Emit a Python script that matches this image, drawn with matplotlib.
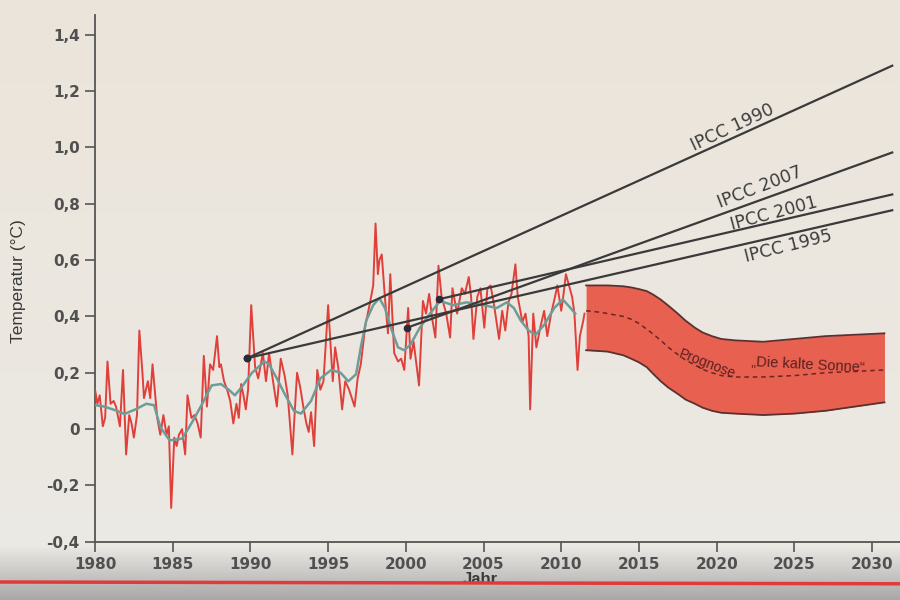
import numpy as np
import matplotlib
matplotlib.use("Agg")
import matplotlib.pyplot as plt

plt.rcParams['font.family'] = ['Liberation Sans', 'DejaVu Sans']

# ---- observed monthly-ish anomalies (red) ----
obs_years = [1980.0, 1980.15, 1980.3, 1980.5, 1980.65, 1980.8, 1981.0, 1981.2, 1981.35, 1981.6,
             1981.8, 1982.0, 1982.2, 1982.35, 1982.5, 1982.7, 1982.85, 1983.05, 1983.15, 1983.4,
             1983.55, 1983.7, 1984.0, 1984.2, 1984.4, 1984.6, 1984.75, 1984.9, 1985.1, 1985.25,
             1985.4, 1985.6, 1985.8, 1985.95, 1986.2, 1986.4, 1986.6, 1986.8, 1987.0, 1987.2,
             1987.4, 1987.6, 1987.85, 1988.0, 1988.1, 1988.3, 1988.5, 1988.7, 1988.9, 1989.1,
             1989.25, 1989.4, 1989.55, 1989.7, 1989.85, 1990.05, 1990.3, 1990.5, 1990.8, 1991.0,
             1991.2, 1991.4, 1991.7, 1991.95, 1992.2, 1992.4, 1992.7, 1992.85, 1993.0, 1993.2,
             1993.4, 1993.6, 1993.75, 1993.9, 1994.1, 1994.3, 1994.5, 1994.7, 1995.0, 1995.3,
             1995.45, 1995.65, 1995.9, 1996.1, 1996.35, 1996.7, 1996.9, 1997.1, 1997.4, 1997.7,
             1997.9, 1998.05, 1998.2, 1998.3, 1998.45, 1998.65, 1998.85, 1999.0, 1999.25, 1999.5,
             1999.7, 1999.9, 2000.15, 2000.3, 2000.5, 2000.85, 2001.1, 2001.3, 2001.5, 2001.7,
             2001.9, 2002.1, 2002.3, 2002.6, 2002.85, 2003.0, 2003.3, 2003.6, 2003.8, 2004.05,
             2004.2, 2004.35, 2004.6, 2004.8, 2005.05, 2005.25, 2005.45, 2005.65, 2006.0, 2006.2,
             2006.4, 2006.6, 2006.8, 2007.05, 2007.2, 2007.5, 2007.7, 2007.9, 2008.0, 2008.2,
             2008.4, 2008.65, 2008.9, 2009.1, 2009.35, 2009.6, 2009.75, 2010.0, 2010.15, 2010.3,
             2010.45, 2010.7, 2010.85, 2011.05, 2011.2, 2011.4, 2011.5]
obs_temp = [0.14, 0.09, 0.12, 0.01, 0.04, 0.24, 0.09, 0.10, 0.08, 0.01,
            0.21, -0.09, 0.05, 0.02, -0.03, 0.05, 0.35, 0.20, 0.11, 0.17,
            0.11, 0.23, 0.04, -0.02, 0.05, -0.02, 0.01, -0.28, -0.03, -0.06,
            -0.02, 0.00, -0.09, 0.12, 0.04, 0.05, 0.02, -0.03, 0.26, 0.08,
            0.23, 0.21, 0.33, 0.22, 0.23, 0.17, 0.14, 0.10, 0.02, 0.09,
            0.04, 0.16, 0.12, 0.07, 0.14, 0.44, 0.22, 0.18, 0.27, 0.17,
            0.27, 0.19, 0.08, 0.25, 0.19, 0.12, -0.09, 0.06, 0.20, 0.15,
            0.08, 0.02, -0.01, 0.06, -0.06, 0.21, 0.14, 0.17, 0.44, 0.17,
            0.29, 0.22, 0.07, 0.17, 0.14, 0.08, 0.18, 0.23, 0.37, 0.45,
            0.51, 0.73, 0.55, 0.60, 0.62, 0.47, 0.34, 0.55, 0.27, 0.24,
            0.25, 0.21, 0.43, 0.25, 0.31, 0.155, 0.455, 0.41, 0.48, 0.39,
            0.325, 0.58, 0.47, 0.41, 0.325, 0.50, 0.41, 0.50, 0.48, 0.54,
            0.47, 0.32, 0.47, 0.50, 0.36, 0.50, 0.51, 0.45, 0.32, 0.42,
            0.35, 0.45, 0.48, 0.585, 0.47, 0.38, 0.41, 0.33, 0.07, 0.41,
            0.29, 0.36, 0.42, 0.33, 0.41, 0.47, 0.51, 0.42, 0.48, 0.55,
            0.52, 0.47, 0.41, 0.21, 0.33, 0.38, 0.41]

# ---- smoothed curve (teal) ----
smooth_years = [1980.0, 1980.6, 1981.3, 1981.9, 1982.6, 1983.3, 1983.8, 1984.2, 1984.8, 1985.6,
                1986.2, 1986.9, 1987.5, 1988.1, 1988.6, 1989.0, 1989.45, 1990.1, 1990.9, 1991.2,
                1991.7, 1992.2, 1992.8, 1993.25, 1993.9, 1994.5, 1995.2, 1995.8, 1996.3, 1996.8,
                1997.1, 1997.45, 1997.9, 1998.3, 1998.65, 1999.1, 1999.5, 1999.9, 2000.3, 2000.9,
                2001.55, 2002.2, 2003.05, 2003.9, 2005.0, 2005.85, 2006.5, 2006.95, 2007.4, 2007.9,
                2008.35, 2008.9, 2009.55, 2010.1, 2010.6, 2010.9]
smooth_temp = [0.085, 0.08, 0.067, 0.054, 0.07, 0.09, 0.085, 0.007, -0.04, -0.034,
               0.02, 0.09, 0.155, 0.16, 0.14, 0.12, 0.15, 0.20, 0.24, 0.23,
               0.18, 0.125, 0.065, 0.055, 0.10, 0.18, 0.21, 0.20, 0.17, 0.195,
               0.29, 0.385, 0.44, 0.465, 0.43, 0.35, 0.29, 0.28, 0.30, 0.36,
               0.41, 0.455, 0.44, 0.45, 0.44, 0.43, 0.45, 0.43, 0.385, 0.35,
               0.335, 0.37, 0.43, 0.46, 0.43, 0.41]

# ---- IPCC projections ----
ipcc_labels = ["IPCC 1990", "IPCC 2007", "IPCC 2001", "IPCC 1995"]
ipcc_start_year = [1989.8, 2000.08, 2002.13, 1989.8]
ipcc_start_val = [0.252, 0.360, 0.461, 0.252]
ipcc_end_year = [2031.3, 2031.3, 2031.3, 2031.3]
ipcc_end_val = [1.29, 0.982, 0.833, 0.777]
ipcc_label_year = [2021.0, 2022.8, 2023.7, 2024.6]
ipcc_label_val = [1.07, 0.86, 0.765, 0.648]
ipcc_label_rot = [25, 21, 15, 14]

# ---- forecast band "Die kalte Sonne" ----
band_years = [2011.6, 2012.5, 2013.0, 2014.0, 2014.5, 2015.0, 2015.5, 2015.9, 2016.4, 2016.9,
              2017.5, 2018.0, 2018.6, 2019.1, 2019.7, 2020.3, 2021.2, 2023.0, 2025.0, 2027.0, 2030.8]
band_upper = [0.51, 0.51, 0.51, 0.507, 0.503, 0.497, 0.49, 0.478, 0.46, 0.438,
              0.41, 0.385, 0.36, 0.343, 0.33, 0.32, 0.315, 0.31, 0.32, 0.33, 0.34]
band_lower = [0.28, 0.277, 0.275, 0.262, 0.25, 0.237, 0.22, 0.197, 0.17, 0.147,
              0.125, 0.105, 0.09, 0.076, 0.065, 0.058, 0.055, 0.05, 0.055, 0.065, 0.095]
band_center = [0.42, 0.415, 0.41, 0.40, 0.39, 0.375, 0.355, 0.338, 0.315, 0.29,
               0.265, 0.245, 0.228, 0.212, 0.2, 0.19, 0.185, 0.185, 0.19, 0.2, 0.21]

x_ticks = [1980, 1985, 1990, 1995, 2000, 2005, 2010, 2015, 2020, 2025, 2030]
y_ticks = [-0.4, -0.2, 0.0, 0.2, 0.4, 0.6, 0.8, 1.0, 1.2, 1.4]
y_ticklabels = ["-0,4", "-0,2", "0", "0,2", "0,4", "0,6", "0,8", "1,0", "1,2", "1,4"]

fig = plt.figure(figsize=(9, 6), dpi=100)

# background (photo of screen): beige to grey gradient
bg = fig.add_axes([0, 0, 1, 1], zorder=-10)
grad = np.linspace(0, 1, 600)
top_c = np.array([0.925, 0.895, 0.855])
mid_c = np.array([0.925, 0.915, 0.895])
low_c = np.array([0.66, 0.66, 0.66])
img = np.zeros((600, 1, 3))
for i, t in enumerate(grad):
    if t < 0.91:
        c = top_c + (mid_c - top_c) * (t / 0.91)
    else:
        c = mid_c + (low_c - mid_c) * ((t - 0.91) / 0.09)
    img[i, 0] = c
bg.imshow(img, aspect='auto', extent=[0, 1, 0, 1])
bg.axis('off')

ax = fig.add_axes([0.1056, 0.097, 0.8944, 0.878])
ax.set_facecolor('none')

ax.plot(obs_years, obs_temp, color='#e0403a', lw=1.4, zorder=3)
ax.plot(smooth_years, smooth_temp, color='#6f9c98', lw=1.8, zorder=4)

for lab, sy, sv, ey, ev, ly, lv, lr in zip(ipcc_labels, ipcc_start_year, ipcc_start_val,
                                            ipcc_end_year, ipcc_end_val, ipcc_label_year,
                                            ipcc_label_val, ipcc_label_rot):
    ax.plot([sy, ey], [sv, ev], color='#3a3a3a', lw=1.6, zorder=5)
    ax.plot([sy], [sv], 'o', color='#2a2a3a', ms=4.5, zorder=6)
    ax.text(ly, lv, lab, rotation=lr, ha='center', va='center', fontsize=12.5,
            family='DejaVu Sans', color='#3c3c3c', rotation_mode='anchor')

ax.fill_between(band_years, band_lower, band_upper, color='#e8604f', lw=0, zorder=2)
ax.plot(band_years, band_upper, color='#5a3030', lw=1.3, zorder=3)
ax.plot(band_years, band_lower, color='#5a3030', lw=1.3, zorder=3)
ax.plot(band_years, band_center, color='#6a2525', lw=1.1, ls=(0, (3, 2.5)), zorder=3)
ax.text(2019.4, 0.232, "Prognose", rotation=-21, ha='center', va='center', fontsize=10,
        color='#5a2020', rotation_mode='anchor')
ax.text(2025.9, 0.228, "\u201eDie kalte Sonne\u201c", rotation=-3, ha='center', va='center',
        fontsize=10.5, color='#5a2020', rotation_mode='anchor')

ax.set_xlim(1980, 2031.8)
ax.set_ylim(-0.4, 1.47)
ax.set_xticks(x_ticks)
ax.set_xticklabels([str(t) for t in x_ticks])
ax.set_yticks(y_ticks)
ax.set_yticklabels(y_ticklabels)

for s in ['top', 'right']:
    ax.spines[s].set_visible(False)
for s in ['left', 'bottom']:
    ax.spines[s].set_color('#555555')
    ax.spines[s].set_linewidth(1.3)
ax.tick_params(axis='both', direction='out', length=7, width=1.2, color='#555555',
               labelsize=11, labelcolor='#505050', pad=4)
for lbl in ax.get_xticklabels() + ax.get_yticklabels():
    lbl.set_fontweight('bold')
    lbl.set_family('DejaVu Sans')

ax.set_ylabel("Temperatur (\u00b0C)", fontsize=12.5, color='#3a3a3a')
ax.yaxis.set_label_coords(-0.086, 0.495)
ax.set_xlabel("Jahr", fontsize=12, color='#3a3a3a', fontweight='bold')
ax.xaxis.set_label_coords(0.478, -0.058)

# red screen line at the bottom of the photo
fig.add_artist(plt.Line2D([0, 1], [0.03, 0.027], color='#e03a3a', lw=2.5,
                          transform=fig.transFigure, zorder=20))

fig.savefig("out.png", dpi=100)
